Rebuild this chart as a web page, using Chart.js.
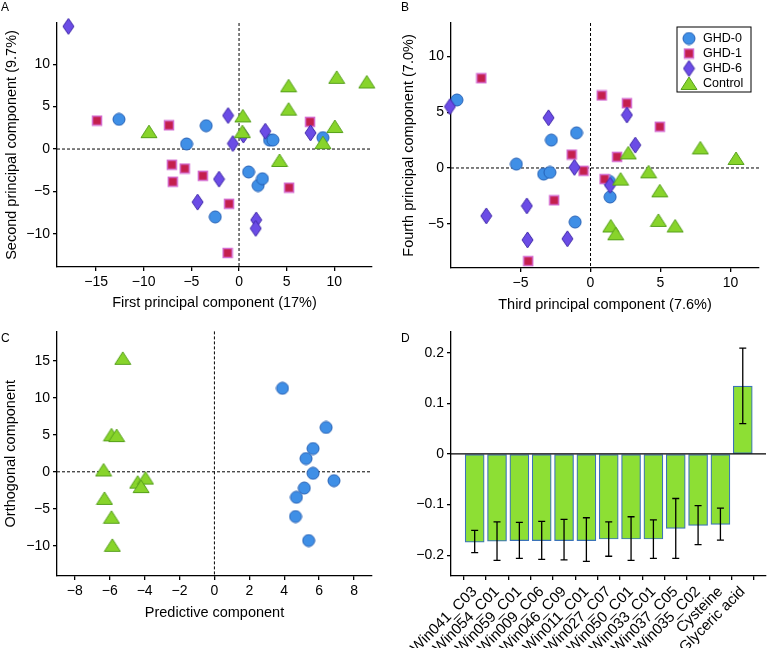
<!DOCTYPE html>
<html>
<head>
<meta charset="utf-8">
<script src="https://cdn.jsdelivr.net/npm/chart.js@4.4.1/dist/chart.umd.min.js"></script>
<style>
  html, body { margin: 0; padding: 0; background: #fff; }
  #fig { position: relative; width: 767px; height: 648px; overflow: hidden; font-family: 'Liberation Sans', Arial, sans-serif; }
  .panel { position: absolute; }
  .letter { position: absolute; font-size: 12px; line-height: 12px; color: #000; }
</style>
</head>
<body>
<div id="fig">
  <div class="panel" style="left:0;top:0;width:380px;height:320px"><canvas id="chart-a"></canvas></div>
  <div class="panel" style="left:380px;top:0;width:387px;height:320px"><canvas id="chart-b"></canvas></div>
  <div class="panel" style="left:0;top:320px;width:380px;height:328px"><canvas id="chart-c"></canvas></div>
  <div class="panel" style="left:380px;top:320px;width:387px;height:328px"><canvas id="chart-d"></canvas></div>
  <div class="letter" style="left:1px;top:1px">A</div>
  <div class="letter" style="left:401px;top:1px">B</div>
  <div class="letter" style="left:1px;top:332px">C</div>
  <div class="letter" style="left:401px;top:332px">D</div>
</div>
<script>
// Panel A: first vs second principal component scores [x, y]
const aGhd0 = [[-12.6, 3.5], [-3.45, 2.75], [-5.5, 0.6], [-2.5, -8.0], [1.0, -2.7], [2.0, -4.3], [2.45, -3.5], [3.2, 1.05], [3.55, 1.05], [8.8, 1.35]];
const aGhd1 = [[-14.9, 3.35], [-7.35, 2.8], [-7.05, -1.85], [-6.95, -3.85], [-5.7, -2.3], [-3.8, -3.15], [-1.05, -6.45], [-1.2, -12.25], [7.45, 3.2], [5.25, -4.55]];
const aGhd6 = [[-17.9, 14.45], [-1.15, 3.95], [-0.65, 0.65], [-2.1, -3.55], [-4.35, -6.25], [0.45, 1.65], [2.75, 2.1], [7.5, 1.9], [1.8, -8.35], [1.75, -9.35]];
const aControl = [[-9.45, 2.05], [0.4, 3.9], [0.35, 2.05], [5.2, 7.45], [5.2, 4.7], [4.25, -1.35], [10.25, 8.45], [13.4, 7.9], [10.05, 2.65], [8.8, 0.75]];

// Panel B: third vs fourth principal component scores
const bGhd0 = [[-9.55, 6.1], [-5.3, 0.35], [-3.35, -0.55], [-2.9, -0.4], [-2.8, 2.5], [-1.0, 3.15], [-1.1, -4.85], [1.35, -1.2], [1.4, -2.6]];
const bGhd1 = [[-7.8, 8.05], [-1.35, 1.2], [-0.5, -0.25], [-2.6, -2.9], [-4.45, -8.35], [0.8, 6.5], [2.6, 5.8], [4.95, 3.7], [1.9, 1.0], [1.0, -1.0]];
const bGhd6 = [[-10.05, 5.5], [-3.0, 4.5], [-1.15, 0.05], [-4.55, -3.4], [-7.45, -4.3], [-4.5, -6.45], [-1.65, -6.35], [1.4, -1.55], [2.6, 4.75], [3.2, 2.05]];
const bControl = [[2.7, 1.35], [2.15, -1.0], [4.15, -0.35], [7.85, 1.8], [10.4, 0.85], [4.95, -2.05], [4.85, -4.7], [6.05, -5.2], [1.45, -5.2], [1.8, -5.9]];

// Panel C: OPLS-DA predictive vs orthogonal component
const cControl = [[-5.25, 15.35], [-5.9, 5.0], [-5.6, 4.9], [-6.35, 0.25], [-6.3, -3.6], [-5.9, -6.15], [-5.85, -9.95], [-4.4, -1.4], [-3.95, -0.85], [-4.2, -2.0]];
const cGhd0 = [[3.9, 11.3], [6.4, 6.0], [5.65, 3.15], [5.25, 1.8], [5.65, -0.2], [6.85, -1.2], [5.15, -2.2], [4.7, -3.45], [4.65, -6.05], [5.4, -9.3]];

// Panel D: loadings with confidence intervals
const metabolites = ['Win041_C03', 'Win054_C01', 'Win059_C01', 'Win009_C06', 'Win046_C09', 'Win011_C01', 'Win027_C07', 'Win050_C01', 'Win033_C01', 'Win037_C05', 'Win035_C02', 'Cysteine', 'Glyceric acid'];
const loadings = [-0.174, -0.172, -0.171, -0.171, -0.171, -0.171, -0.168, -0.168, -0.168, -0.147, -0.141, -0.139, 0.134];
const loadingHigh = [-0.151, -0.134, -0.135, -0.133, -0.129, -0.126, -0.134, -0.124, -0.130, -0.088, -0.102, -0.107, 0.209];
const loadingLow = [-0.195, -0.210, -0.206, -0.208, -0.209, -0.212, -0.202, -0.210, -0.206, -0.206, -0.179, -0.170, 0.060];

const FONT = "'Liberation Sans', Arial, sans-serif";
Chart.defaults.font.family = FONT;
Chart.defaults.color = '#000';

const makeMarker = (shape, fill, stroke) => {
    const sizes = { circle: [14, 14], square: [12, 12], diamond: [13, 18], triangle: [18, 15] };
    const [w, h] = sizes[shape];
    const c = document.createElement('canvas');
    c.width = w;
    c.height = h;
    const ctx = c.getContext('2d');
    ctx.fillStyle = fill;
    ctx.strokeStyle = stroke;
    ctx.lineWidth = shape === 'square' ? 1.5 : 1;
    ctx.beginPath();
    if (shape === 'circle') {
        ctx.arc(w / 2, h / 2, 6, 0, Math.PI * 2);
    } else if (shape === 'square') {
        ctx.rect(1.5, 1.5, 9, 9);
    } else if (shape === 'diamond') {
        ctx.moveTo(w / 2, 1);
        ctx.lineTo(w - 1, h / 2);
        ctx.lineTo(w / 2, h - 1);
        ctx.lineTo(1, h / 2);
        ctx.closePath();
    } else {
        ctx.moveTo(w / 2, 1);
        ctx.lineTo(w - 1, h - 1.5);
        ctx.lineTo(1, h - 1.5);
        ctx.closePath();
    }
    ctx.fill();
    ctx.stroke();
    return c;
};

const markers = {
    ghd0: makeMarker('circle', '#3f8fe6', '#2560b5'),
    ghd1: makeMarker('square', '#c41f4d', '#d46bcf'),
    ghd6: makeMarker('diamond', '#6b4ce6', '#3f27a8'),
    control: makeMarker('triangle', '#88d42b', '#56a01b'),
};

const toPoints = (pairs) => pairs.map(([x, y]) => ({ x, y }));

const scoreSet = (label, pairs, marker, order) => ({
    label,
    data: toPoints(pairs),
    pointStyle: marker,
    pointRadius: 7,
    order,
    clip: false,
});

const minus = (v) => String(v).replace('-', '\u2212');

const axis = ({ min, max, step, fit, title, titlePad, callback, tickSize = 14 }) => ({
    type: 'linear',
    min,
    max,
    offset: false,
    border: { display: true, color: '#000', width: 1.3 },
    grid: { display: true, drawOnChartArea: false, drawTicks: true, tickLength: 4, color: '#000', lineWidth: 1.3 },
    ticks: {
        stepSize: step,
        includeBounds: false,
        color: '#000',
        font: { size: tickSize },
        padding: 3,
        callback: callback || minus,
    },
    title: title
        ? { display: true, text: title, color: '#000', font: { size: 14.5 }, padding: titlePad }
        : { display: false },
    afterFit: (scale) => {
        if (scale.isHorizontal()) {
            scale.height = fit;
        } else {
            scale.width = fit;
        }
    },
});

// dashed cross through the origin (solid zero line for the bar panel)
const originLines = {
    id: 'originLines',
    draw(chart, opts, front) {
        if (!!opts.front !== front) {
            return;
        }
        const { ctx, chartArea: area, scales: { x, y } } = chart;
        ctx.save();
        ctx.strokeStyle = '#000';
        ctx.lineWidth = opts.width || 1;
        ctx.setLineDash(opts.dash || []);
        ctx.beginPath();
        if (opts.vertical) {
            const px = x.getPixelForValue(0);
            ctx.moveTo(px, area.top);
            ctx.lineTo(px, area.bottom);
        }
        const py = y.getPixelForValue(0);
        ctx.moveTo(area.left, py);
        ctx.lineTo(area.right, py);
        ctx.stroke();
        ctx.restore();
    },
    beforeDatasetsDraw(chart, args, opts) {
        this.draw(chart, opts, false);
    },
    afterDatasetsDraw(chart, args, opts) {
        this.draw(chart, opts, true);
    },
};

const markerLegend = {
    id: 'markerLegend',
    afterDraw(chart) {
        const { ctx, chartArea } = chart;
        const left = chartArea.right - 82;
        const top = chartArea.top + 4;
        ctx.save();
        ctx.strokeStyle = '#000';
        ctx.lineWidth = 1;
        ctx.strokeRect(left, top, 74, 65);
        ctx.font = `12.5px ${FONT}`;
        ctx.fillStyle = '#000';
        ctx.textBaseline = 'middle';
        chart.data.datasets.forEach((ds, i) => {
            const cy = top + 11.5 + i * 15;
            const m = ds.pointStyle;
            ctx.drawImage(m, left + 12 - m.width / 2, cy - m.height / 2);
            ctx.fillText(ds.label, left + 26, cy + 0.5);
        });
        ctx.restore();
    },
};

const errorBars = {
    id: 'errorBars',
    afterDatasetsDraw(chart) {
        const { ctx, scales: { y } } = chart;
        const meta = chart.getDatasetMeta(0);
        ctx.save();
        ctx.strokeStyle = '#000';
        ctx.lineWidth = 1.3;
        meta.data.forEach((bar, i) => {
            const top = y.getPixelForValue(loadingHigh[i]);
            const bottom = y.getPixelForValue(loadingLow[i]);
            ctx.beginPath();
            ctx.moveTo(bar.x, top);
            ctx.lineTo(bar.x, bottom);
            ctx.moveTo(bar.x - 3.5, top);
            ctx.lineTo(bar.x + 3.5, top);
            ctx.moveTo(bar.x - 3.5, bottom);
            ctx.lineTo(bar.x + 3.5, bottom);
            ctx.stroke();
        });
        ctx.restore();
    },
};

const baseOptions = (padding) => ({
    responsive: true,
    maintainAspectRatio: false,
    animation: false,
    layout: { padding },
    plugins: {
        legend: { display: false },
        tooltip: { enabled: false },
        originLines: { vertical: true, dash: [3, 2] },
    },
});

const init = () => {
    new Chart(document.getElementById('chart-a'), {
        type: 'scatter',
        data: {
            datasets: [
                scoreSet('GHD-0', aGhd0, markers.ghd0, 4),
                scoreSet('GHD-1', aGhd1, markers.ghd1, 3),
                scoreSet('GHD-6', aGhd6, markers.ghd6, 2),
                scoreSet('Control', aControl, markers.control, 1),
            ],
        },
        options: {
            ...baseOptions({ top: 23, right: 8, bottom: 0, left: 0 }),
            scales: {
                x: axis({ min: -19.1, max: 13.95, step: 5, fit: 53, title: 'First principal component (17%)', titlePad: { top: 4, bottom: 8 } }),
                y: axis({ min: -13.9, max: 14.85, step: 5, fit: 57, title: 'Second principal component (9.7%)', titlePad: { top: 3, bottom: 4 } }),
            },
        },
        plugins: [originLines],
    });

    new Chart(document.getElementById('chart-b'), {
        type: 'scatter',
        data: {
            datasets: [
                scoreSet('GHD-0', bGhd0, markers.ghd0, 4),
                scoreSet('GHD-1', bGhd1, markers.ghd1, 3),
                scoreSet('GHD-6', bGhd6, markers.ghd6, 2),
                scoreSet('Control', bControl, markers.control, 1),
            ],
        },
        options: {
            ...baseOptions({ top: 23, right: 2, bottom: 0, left: 0 }),
            scales: {
                x: axis({ min: -9.97, max: 12.04, step: 5, fit: 52, title: 'Third principal component (7.6%)', titlePad: { top: 4, bottom: 6 } }),
                y: axis({ min: -8.97, max: 13.0, step: 5, fit: 71, title: 'Fourth principal component (7.0%)', titlePad: { top: 20, bottom: 4 } }),
            },
        },
        plugins: [originLines, markerLegend],
    });

    new Chart(document.getElementById('chart-c'), {
        type: 'scatter',
        data: {
            datasets: [
                scoreSet('GHD-0', cGhd0, markers.ghd0, 2),
                scoreSet('Control', cControl, markers.control, 1),
            ],
        },
        options: {
            ...baseOptions({ top: 10, right: 8, bottom: 0, left: 0 }),
            scales: {
                x: axis({ min: -9.02, max: 9.03, step: 2, fit: 72, title: 'Predictive component', titlePad: { top: 4, bottom: 26 } }),
                y: axis({ min: -14.1, max: 19, step: 5, fit: 57, title: 'Orthogonal component', titlePad: { top: 2.5, bottom: 4 } }),
            },
        },
        plugins: [originLines],
    });

    const dOptions = baseOptions({ top: 10, right: 1, bottom: 0, left: 0 });
    dOptions.plugins.originLines = { vertical: false, front: true, width: 1.3 };

    const xD = axis({ min: -1.06, max: 13.04, step: 1, fit: 72, tickSize: 15, callback: (v) => metabolites[v] });
    xD.ticks.minRotation = 45;
    xD.ticks.maxRotation = 45;
    xD.ticks.autoSkip = false;
    xD.afterBuildTicks = (scale) => {
        scale.ticks = scale.ticks.filter((t) => t.value >= 0 && t.value < metabolites.length);
    };

    new Chart(document.getElementById('chart-d'), {
        type: 'bar',
        data: {
            datasets: [{
                label: 'Loading',
                data: loadings.map((v, i) => ({ x: i, y: v })),
                backgroundColor: '#8ddf34',
                borderColor: '#3b73b8',
                borderWidth: 1.2,
                borderSkipped: false,
                barThickness: 19,
            }],
        },
        options: {
            ...dOptions,
            scales: {
                x: xD,
                y: axis({
                    min: -0.241,
                    max: 0.242,
                    step: 0.1,
                    fit: 71,
                    callback: (v) => (Math.abs(v) < 1e-9 ? '0' : minus((Math.round(v * 10) / 10).toFixed(1))),
                }),
            },
        },
        plugins: [originLines, errorBars],
    });
};

if (document.readyState === 'loading') {
    document.addEventListener('DOMContentLoaded', init);
} else {
    init();
}
</script>
</body>
</html>
